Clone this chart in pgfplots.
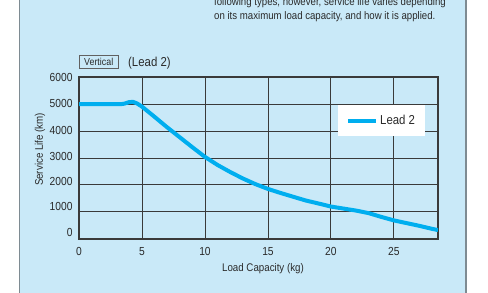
\documentclass[border=0pt]{standalone}
\usepackage{fontspec}
\setmainfont{Liberation Sans}[FakeStretch=0.88]
\usepackage{pgfplots}
\pgfplotsset{compat=1.18}
\definecolor{bgblue}{HTML}{C9E9F8}
\definecolor{panelgrey}{HTML}{7E8B92}
\definecolor{curve}{HTML}{00AEEF}
\definecolor{txt}{HTML}{2A2A2A}
\definecolor{gridc}{HTML}{3A3A3A}
\begin{document}
\begin{tikzpicture}[x=1bp,y=1bp]
\useasboundingbox (0,0) rectangle (488,292);
\clip (0,0) rectangle (488,292);
\fill[bgblue] (19.5,-5) rectangle (466,300);
\draw[panelgrey, line width=1.6bp] (19.5,-5) -- (19.5,300);
\draw[panelgrey, line width=1.6bp] (466,-5) -- (466,300);
\node[anchor=base west, text=txt, font=\fontsize{11}{12}\selectfont, inner sep=0] at (214,286.5) {following types, however, service life varies depending};
\node[anchor=base west, text=txt, font=\fontsize{11}{12}\selectfont, inner sep=0] at (214,272.7) {on its maximum load capacity, and how it is applied.};
\node[draw=gridc!80, line width=0.7bp, text=txt, font=\fontsize{10.1}{11}\selectfont, minimum width=39.3bp, minimum height=13bp, inner sep=0] at (98.7,230.5) {Vertical};
\node[anchor=base west, text=txt, font=\fontsize{13}{14}\selectfont, inner sep=0] at (128,226) {(Lead 2)};
\begin{axis}[
  at={(79bp,53.3bp)}, anchor=south west,
  scale only axis, width=359bp, height=161.4bp,
  xmin=0, xmax=28.5, ymin=0, ymax=6000,
  xtick={0,5,...,25},
  ytick={0,1000,...,6000}, yticklabels={},
  extra y ticks={219,1190,2134,3063,4011,5033,6000},
  extra y tick labels={0,1000,2000,3000,4000,5000,6000},
  extra y tick style={grid=none},
  grid=major,
  major grid style={gridc, line width=0.9bp},
  axis line style={gridc, line width=1.9bp},
  major tick length=0,
  /pgf/number format/assume math mode=true,
  /pgf/number format/set thousands separator={},
  scaled y ticks=false,
  tick label style={text=txt, font=\fontsize{11.7}{13}\selectfont},
  yticklabel style={xshift=-3bp},
  xticklabel style={yshift=-5bp},
  xlabel={Load Capacity (kg)},
  ylabel={Service Life (km)},
  label style={text=txt, font=\fontsize{11.1}{13}\selectfont},
  xlabel style={at={(axis description cs:0.5125,-0.188)}, anchor=center},
  ylabel style={at={(axis description cs:-0.1086,0.553)}, anchor=center},
  legend style={at={(axis description cs:0.7214,0.828)}, anchor=north west, draw=none, fill=white, inner xsep=8bp, inner ysep=8bp, font=\fontsize{13}{14}\selectfont, text=txt, cells={anchor=west}},
  legend image code/.code={\draw[#1, line width=4bp] (0bp,0bp) -- (28bp,0bp);},
]
\addplot[curve, line width=4bp, line join=round, line cap=butt] coordinates {
(0,5000) (3.3,5000) (3.6,5020) (4.0,5080) (4.3,5085) (4.6,5030) (5,4910)
(6,4530) (7,4140) (8,3770) (9,3400) (10,3040) (11,2740) (12,2480) (13,2240)
(14,2030) (15,1850) (16,1700) (17,1560) (18,1420) (19,1310) (20,1195)
(21,1120) (22,1045) (23,950) (24,810) (25,680) (26,580) (27,480) (28,370) (28.5,320)
};
\addlegendentry{Lead 2\hspace{12bp}}
\end{axis}
\end{tikzpicture}
\end{document}
